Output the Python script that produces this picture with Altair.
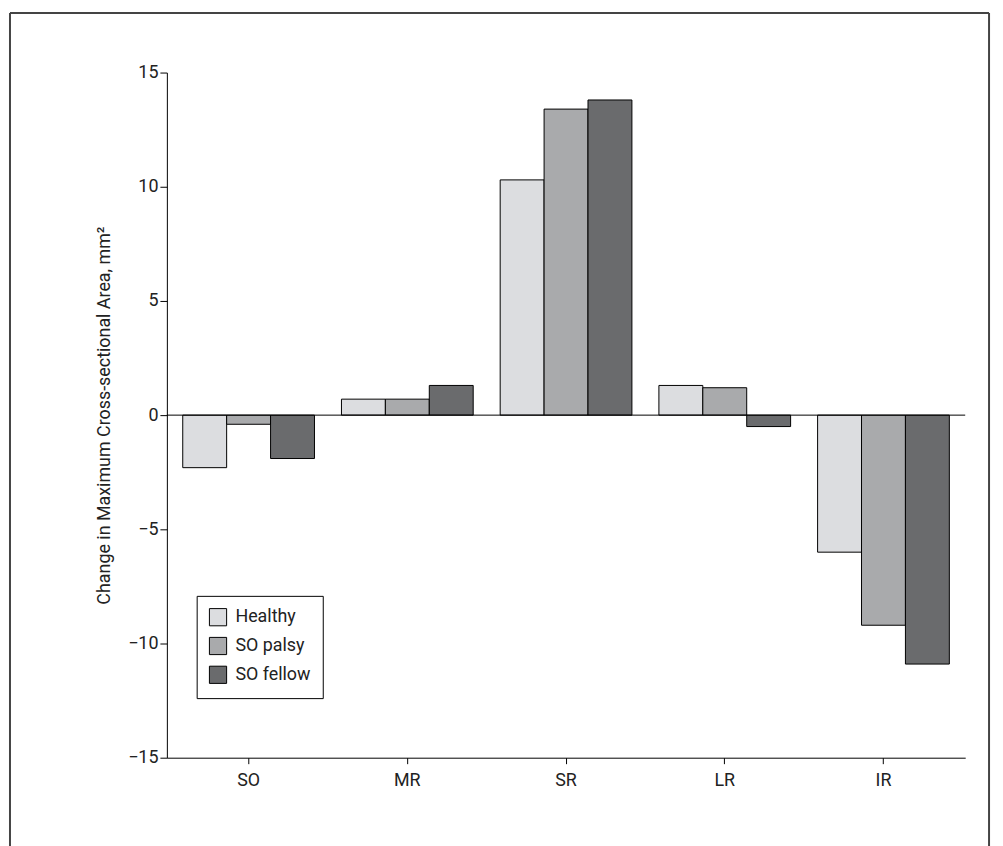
import altair as alt
import pandas as pd

muscles = ["SO", "MR", "SR", "LR", "IR"]
groups = ["Healthy", "SO palsy", "SO fellow"]
healthy = [-2.3, 0.7, 10.3, 1.3, -6.0]
so_palsy = [-0.4, 0.7, 13.4, 1.2, -9.2]
so_fellow = [-1.9, 1.3, 13.8, -0.5, -10.9]
colors = ["#dcdde0", "#a9aaac", "#6a6b6d"]

rows = []
for g, vals in zip(groups, [healthy, so_palsy, so_fellow]):
    for m, v in zip(muscles, vals):
        rows.append({"Muscle": m, "Group": g, "Value": v})
df = pd.DataFrame(rows)

FONT = "Roboto"

bars = alt.Chart(df).mark_bar(stroke="black", strokeWidth=1).encode(
    x=alt.X("Muscle:N", sort=muscles, title=None,
            scale=alt.Scale(paddingInner=0.17, paddingOuter=0.1),
            axis=alt.Axis(labelAngle=0, labelFontSize=18, labelPadding=8, tickSize=6,
                          domainColor="black", tickColor="black", labelColor="#222")),
    xOffset=alt.XOffset("Group:N", sort=groups),
    y=alt.Y("Value:Q", title="Change in Maximum Cross-sectional Area, mm²",
            scale=alt.Scale(domain=[-15, 15], nice=False),
            axis=alt.Axis(values=[-15, -10, -5, 0, 5, 10, 15], grid=False, labelFontSize=18,
                          titleFontSize=18, titleFontWeight="normal", tickSize=7,
                          labelExpr="replace(datum.label, '-', '\u2212')",
                          domainColor="black", tickColor="black", labelColor="#222",
                          titleColor="#222", titlePadding=14)),
    color=alt.Color("Group:N", sort=groups, scale=alt.Scale(domain=groups, range=colors),
                    legend=alt.Legend(title=None, orient="none", legendX=30, legendY=527,
                                      strokeColor="black", padding=12, labelFontSize=18,
                                      labelOffset=8, symbolType="square", symbolSize=300,
                                      symbolStrokeColor="black", symbolStrokeWidth=1,
                                      rowPadding=6, labelColor="#222")),
)

zero = alt.Chart(pd.DataFrame({"y": [0]})).mark_rule(color="black").encode(y="y:Q")

frame = alt.Chart(pd.DataFrame({"a": [0]})).mark_rule(color="#444", strokeWidth=2, clip=False)
f_top = frame.encode(x=alt.value(-158), x2=alt.value(828), y=alt.value(-60))
f_left = frame.encode(x=alt.value(-158), y=alt.value(-60), y2=alt.value(800))
f_right = frame.encode(x=alt.value(828), y=alt.value(-60), y2=alt.value(800))

chart = (bars + zero + f_top + f_left + f_right).properties(
    width=804, height=690,
    autosize=alt.AutoSizeParams(type="none"),
    padding={"left": 160, "top": 62, "right": 30, "bottom": 100},
).configure(font=FONT).configure_view(stroke=None)

chart.save("out.html", embed_options={"renderer": "svg", "actions": False})
